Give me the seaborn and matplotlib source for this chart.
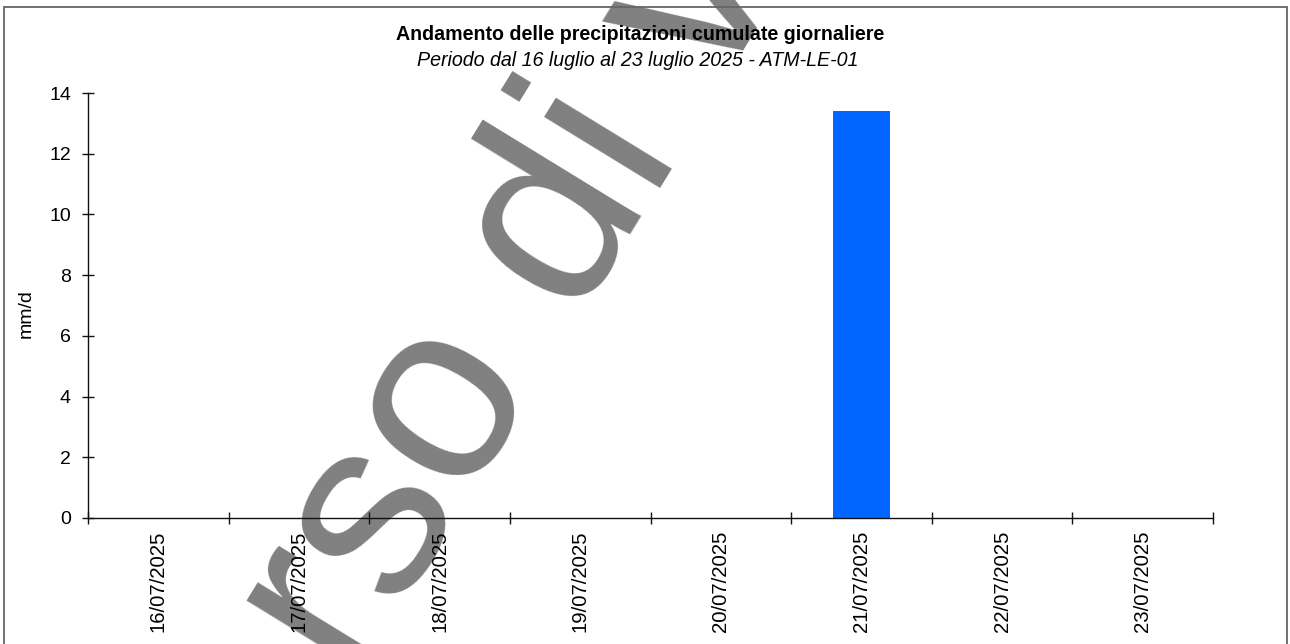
import numpy as np
import matplotlib
matplotlib.use("Agg")
import matplotlib.pyplot as plt
from matplotlib.patches import Rectangle
import seaborn as sns

# ---- data ----
dates = ["16/07/2025", "17/07/2025", "18/07/2025", "19/07/2025",
         "20/07/2025", "21/07/2025", "22/07/2025", "23/07/2025"]
rain_mm = [0, 0, 0, 0, 0, 13.4, 0, 0]
y_ticks = [0, 2, 4, 6, 8, 10, 12, 14]
title = "Andamento delle precipitazioni cumulate giornaliere"
subtitle = "Periodo dal 16 luglio al 23 luglio 2025 - ATM-LE-01"
y_label = "mm/d"
watermark = "rso di v"

sns.set_theme(style="white")
plt.rcParams["font.family"] = ["Liberation Sans", "DejaVu Sans"]

W, H = 1290, 644
fig = plt.figure(figsize=(W / 100, H / 100), dpi=100)
fig.patch.set_facecolor("white")
ax = fig.add_axes([88 / W, 1 - 518 / H, (1213 - 88) / W, (518 - 93) / H])
ax.set_facecolor("none")

sns.barplot(x=dates, y=rain_mm, color="#0066FF", saturation=1, width=0.41,
            linewidth=0, ax=ax)

ax.set_xlim(-0.5, len(dates) - 0.5)
ax.set_ylim(0, 14)
ax.set_yticks(y_ticks)
ax.set_xticks(np.arange(-0.5, len(dates), 1))
ax.set_xticklabels([])
ax.set_xticks(np.arange(len(dates)), minor=True)
ax.set_xticklabels(dates, minor=True, rotation=90, fontsize=14.7, color="black")

for s in ["top", "right"]:
    ax.spines[s].set_visible(False)
for s in ["left", "bottom"]:
    ax.spines[s].set_color("#111111")
    ax.spines[s].set_linewidth(1.0)

ax.tick_params(axis="both", which="major", direction="inout", length=8.6,
               width=1.0, color="#111111", labelsize=14, labelcolor="black",
               pad=8, bottom=True, left=True)
ax.tick_params(axis="x", which="minor", bottom=True, length=0, pad=9,
               labelsize=14.7, labelcolor="black")
ax.tick_params(axis="x", which="major", labelbottom=False)
ax.set_xlabel("")
ax.set_ylabel(y_label, fontsize=14, color="black")
ax.yaxis.set_label_coords(-0.0471, 0.482)

fig.text(640 / W, 1 - 34 / H, title, ha="center", va="center",
         fontsize=14.1, fontweight="bold", color="black")
fig.text(638 / W, 1 - 61 / H, subtitle, ha="center", va="center",
         fontsize=14.1, fontstyle="italic", color="black")

fig.text(569 / W, 1 - 335 / H, watermark, rotation=58.5, rotation_mode="anchor",
         ha="center", va="baseline", fontsize=184, color="#808080", zorder=-1)

fig.add_artist(Rectangle((4 / W, -0.1), (1287 - 4) / W, 1 - 7 / H + 0.1,
                         transform=fig.transFigure, fill=False,
                         edgecolor="#666666", linewidth=1.3))

fig.savefig("out.png", dpi=100)
